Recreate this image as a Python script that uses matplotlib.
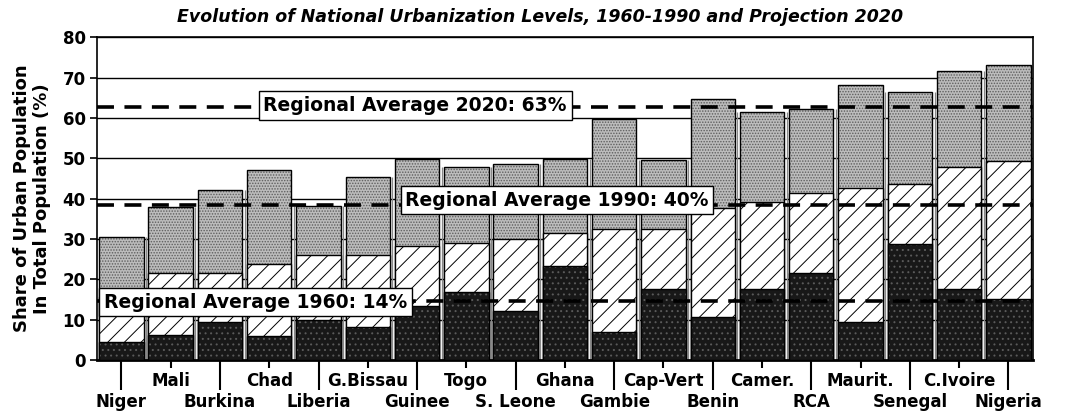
import matplotlib
matplotlib.use("Agg")
import matplotlib.pyplot as plt
import numpy as np

# Data (% urban population)
countries = ["Niger", "Mali", "Burkina", "Chad", "Liberia", "G.Bissau", "Guinee",
             "Togo", "S. Leone", "Ghana", "Gambie", "Cap-Vert", "Benin", "Camer.",
             "RCA", "Maurit.", "Senegal", "C.Ivoire", "Nigeria"]
urban_1960 = [4.5, 6.2, 9.5, 5.9, 10.0, 8.2, 13.4, 16.8, 12.1, 23.3, 6.8, 17.7,
              10.6, 17.7, 21.6, 9.5, 28.7, 17.5, 15.2]
urban_1990 = [15.5, 21.6, 21.6, 23.8, 26.0, 26.0, 28.2, 29.0, 30.0, 31.4, 32.4,
              32.4, 37.6, 39.2, 41.4, 42.6, 43.6, 47.7, 49.3]
urban_2020 = [30.4, 38.0, 42.1, 47.2, 38.1, 45.4, 49.9, 47.8, 48.5, 49.7, 59.6,
              49.5, 64.7, 61.4, 62.2, 68.2, 66.3, 71.5, 73.2]

# Regional averages: where the dashed line sits, and the label text
avg_line = [14.5, 38.5, 62.6]
avg_labels = ["Regional Average 1960: 14%", "Regional Average 1990: 40%",
              "Regional Average 2020: 63%"]

plt.rcParams["font.family"] = ["DejaVu Sans"]
plt.rcParams["hatch.linewidth"] = 0.7

fig = plt.figure(figsize=(10.75, 4.18), dpi=100)
ax = fig.add_axes([0.090, 0.139, 0.871, 0.772])

x = np.arange(len(countries))
w = 0.9

# horizontal grid behind the bars
for yv in range(10, 81, 10):
    ax.axhline(yv, color="black", lw=1.0, zorder=0)

# thin separators between bars
bounds = x[:-1] + 0.5
sep_top = np.minimum(urban_2020[:-1], urban_2020[1:])
ax.vlines(bounds, 0, sep_top, color="#888888", lw=0.9, zorder=0.5)

# 2020 - grey stipple
ax.bar(x, urban_2020, w, color="#bcbcbc", edgecolor="#5e5e5e", hatch="......",
       lw=0, zorder=1)
ax.bar(x, urban_2020, w, facecolor="none", edgecolor="black", lw=1.0, zorder=1.1)
# 1990 - diagonal hatch
ax.bar(x, urban_1990, w, color="white", edgecolor="black", hatch="//",
       lw=1.0, zorder=2)
# 1960 - black
ax.bar(x, urban_1960, w, color="#181818", edgecolor="#5a5a5a", hatch="...",
       lw=0, zorder=3)
ax.bar(x, urban_1960, w, facecolor="none", edgecolor="black", lw=1.0, zorder=3.1)

# regional average lines
for yv in avg_line:
    ax.axhline(yv, color="black", lw=2.6, dashes=(4.7, 2.9), zorder=4)

label_pos = [(2.72, 14.3), (8.84, 39.6), (5.96, 63.1)]
for (lx, ly), txt in zip(label_pos, avg_labels):
    ax.text(lx, ly, txt, ha="center", va="center", fontsize=13.5, fontweight="bold",
            zorder=6,
            bbox=dict(boxstyle="square,pad=0.25", fc="white", ec="black", lw=1.0))

ax.set_xlim(-0.5, len(countries) - 0.5)
ax.set_ylim(0, 80)
ax.set_yticks(range(0, 81, 10))
ax.tick_params(axis="y", labelsize=12, width=1.2, length=5, pad=3)
for lab in ax.get_yticklabels():
    lab.set_fontweight("bold")

# two-row country labels: bottom row on long ticks, top row on short ticks
ax.set_xticks(x[::2])
ax.set_xticklabels(countries[::2], fontsize=12, fontweight="bold")
ax.set_xticks(x[1::2], minor=True)
ax.set_xticklabels(countries[1::2], minor=True, fontsize=12, fontweight="bold")
ax.tick_params(axis="x", which="major", length=21.6, width=1.5, pad=2.5)
ax.tick_params(axis="x", which="minor", length=6, width=1.5, pad=2.5)

for sp in ax.spines.values():
    sp.set_linewidth(1.2)
ax.spines["bottom"].set_linewidth(2.0)

ax.set_ylabel("Share of Urban Population\nIn Total Population (%)", fontsize=13,
              fontweight="bold", linespacing=1.15, labelpad=8)

fig.text(0.502, 1 - 17 / 418, "Evolution of National Urbanization Levels, "
         "1960-1990 and Projection 2020", ha="center", va="center",
         fontsize=12.5, fontweight="bold", fontstyle="italic")

fig.savefig("out.png", dpi=100)
